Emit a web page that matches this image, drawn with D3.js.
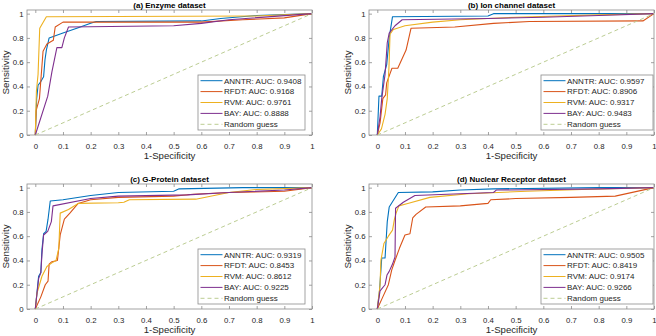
<!DOCTYPE html>
<html>
<head>
<meta charset="utf-8">
<script src="https://cdn.jsdelivr.net/npm/d3@7"></script>
<style>
    body { margin: 0; background: #fff; }
    text { font-family: "Liberation Sans", Arial, Helvetica, sans-serif; }
</style>
</head>
<body>
<div id="chart"></div>
<script>
// Method names (legend order) and their colours
const methods = ["ANNTR", "RFDT", "RVM", "BAY"];
const methodColors = ["#0072BD", "#D95319", "#EDB120", "#7E2F8E"];

const titles = ["(a) Enzyme dataset", "(b) Ion channel dataset", "(c) G-Protein dataset", "(d) Nuclear Receptor dataset"];
const aucEnzyme = ["0.9408", "0.9168", "0.9761", "0.8888"];
const aucIon = ["0.9597", "0.8906", "0.9317", "0.9483"];
const aucGpcr = ["0.9319", "0.8453", "0.8612", "0.9225"];
const aucNuclear = ["0.9505", "0.8419", "0.9174", "0.9266"];

const xTicks = [0, 0.1, 0.2, 0.3, 0.4, 0.5, 0.6, 0.7, 0.8, 0.9, 1];
const yTicks = [0, 0.2, 0.4, 0.6, 0.8, 1];

// ROC points [1-specificity, sensitivity]
const enzymeANNTR = [[0,0],[0.005,0.3],[0.01,0.41],[0.02,0.44],[0.03,0.48],[0.035,0.62],[0.04,0.7],[0.05,0.8],[0.1,0.84],[0.15,0.88],[0.2,0.92],[0.22,0.935],[0.6,0.94],[0.67,0.96],[0.8,0.985],[1,1]];
const enzymeRFDT = [[0,0],[0.003,0.2],[0.015,0.3],[0.028,0.69],[0.042,0.75],[0.065,0.78],[0.072,0.89],[0.1,0.93],[0.6,0.93],[0.75,0.95],[0.9,0.965],[1,1]];
const enzymeRVM = [[0,0],[0.004,0.36],[0.01,0.5],[0.016,0.88],[0.04,0.975],[0.8,0.98],[1,1]];
const enzymeBAY = [[0,0],[0.045,0.32],[0.06,0.52],[0.078,0.72],[0.096,0.72],[0.105,0.8],[0.12,0.89],[0.5,0.9],[0.6,0.92],[0.7,0.95],[1,1]];

const ionANNTR = [[0,0],[0.006,0.32],[0.016,0.32],[0.022,0.48],[0.034,0.58],[0.043,0.8],[0.055,0.975],[0.4,0.98],[0.42,1],[1,1]];
const ionRFDT = [[0,0],[0.01,0.1],[0.02,0.3],[0.03,0.33],[0.034,0.43],[0.045,0.5],[0.053,0.55],[0.074,0.55],[0.09,0.63],[0.104,0.7],[0.122,0.88],[0.28,0.89],[0.42,0.92],[0.55,0.935],[0.96,0.94],[1,1]];
const ionRVM = [[0,0],[0.015,0.05],[0.028,0.17],[0.036,0.3],[0.042,0.55],[0.046,0.83],[0.058,0.87],[0.1,0.9],[0.2,0.93],[0.3,0.95],[0.5,0.97],[0.8,0.99],[1,1]];
const ionBAY = [[0,0],[0.01,0.15],[0.016,0.3],[0.028,0.5],[0.036,0.76],[0.043,0.84],[0.064,0.9],[0.09,0.95],[0.4,0.96],[0.6,0.97],[0.8,0.985],[1,1]];

const gpcrANNTR = [[0,0],[0.012,0.27],[0.02,0.3],[0.024,0.49],[0.03,0.62],[0.039,0.64],[0.046,0.74],[0.054,0.89],[0.1,0.9],[0.2,0.935],[0.3,0.96],[0.5,0.97],[0.52,0.99],[0.75,1],[1,1]];
const gpcrRFDT = [[0,0],[0.02,0.1],[0.036,0.2],[0.046,0.23],[0.05,0.37],[0.06,0.39],[0.08,0.4],[0.09,0.61],[0.105,0.74],[0.125,0.79],[0.155,0.87],[0.2,0.9],[0.3,0.92],[0.5,0.93],[0.57,0.945],[0.7,0.96],[0.9,0.97],[1,1]];
const gpcrRVM = [[0,0],[0.006,0.13],[0.024,0.27],[0.042,0.35],[0.06,0.38],[0.075,0.4],[0.085,0.5],[0.09,0.79],[0.12,0.82],[0.155,0.87],[0.3,0.875],[0.32,0.88],[0.34,0.9],[0.58,0.905],[0.7,0.96],[0.8,0.985],[1,1]];
const gpcrBAY = [[0,0],[0.012,0.25],[0.02,0.3],[0.024,0.45],[0.03,0.61],[0.045,0.64],[0.058,0.72],[0.064,0.85],[0.2,0.91],[0.3,0.93],[0.55,0.94],[0.7,0.96],[0.9,0.98],[1,1]];

const nuclearANNTR = [[0,0],[0.008,0.15],[0.016,0.42],[0.028,0.42],[0.036,0.72],[0.043,0.84],[0.076,0.96],[0.2,0.965],[0.3,0.98],[0.42,0.99],[0.8,1],[1,1]];
const nuclearRFDT = [[0,0],[0.02,0.1],[0.04,0.2],[0.052,0.32],[0.064,0.4],[0.08,0.5],[0.1,0.61],[0.118,0.62],[0.128,0.75],[0.14,0.78],[0.175,0.84],[0.3,0.85],[0.4,0.87],[0.41,0.9],[0.5,0.91],[0.7,0.92],[0.86,0.93],[1,1]];
const nuclearRVM = [[0,0],[0.01,0.2],[0.013,0.4],[0.024,0.54],[0.04,0.6],[0.055,0.65],[0.062,0.74],[0.068,0.79],[0.078,0.85],[0.11,0.87],[0.19,0.92],[0.33,0.95],[0.54,0.97],[0.74,0.985],[1,1]];
const nuclearBAY = [[0,0],[0.01,0.15],[0.028,0.2],[0.035,0.28],[0.043,0.31],[0.055,0.37],[0.064,0.43],[0.066,0.83],[0.094,0.88],[0.136,0.935],[0.3,0.95],[0.42,0.96],[0.43,0.98],[0.8,0.99],[1,1]];

const randomGuess = [[0,0],[1,1]];

// Panel layout (pixel boxes of each axes)
const panels = [
    {title: titles[0], auc: aucEnzyme, curves: [enzymeANNTR, enzymeRFDT, enzymeRVM, enzymeBAY], box: {left: 27, right: 312, top: 10, bottom: 135}, legend: {right: 7, width: 107}},
    {title: titles[1], auc: aucIon, curves: [ionANNTR, ionRFDT, ionRVM, ionBAY], box: {left: 369, right: 654, top: 10, bottom: 135}, legend: {right: 1, width: 112}},
    {title: titles[2], auc: aucGpcr, curves: [gpcrANNTR, gpcrRFDT, gpcrRVM, gpcrBAY], box: {left: 27, right: 312, top: 184, bottom: 309}, legend: {right: 7, width: 107}},
    {title: titles[3], auc: aucNuclear, curves: [nuclearANNTR, nuclearRFDT, nuclearRVM, nuclearBAY], box: {left: 369, right: 654, top: 184, bottom: 309}, legend: {right: 1, width: 112}}
];

const axisColor = "#8c8c8c";
const textColor = "#262626";
const guessColor = "#bccd93";

const svg = d3.select("#chart")
    .append("svg")
    .attr("width", 656)
    .attr("height", 336);

panels.forEach(p => {
    const b = p.box;
    const x = d3.scaleLinear().domain([-0.03, 1]).range([b.left, b.right]);
    const y = d3.scaleLinear().domain([0, 1.03]).range([b.bottom, b.top]);

    const g = svg.append("g");

    // Axes background and box
    g.append("rect")
        .attr("x", b.left)
        .attr("y", b.top)
        .attr("width", b.right - b.left)
        .attr("height", b.bottom - b.top)
        .attr("fill", "#fff")
        .attr("stroke", axisColor)
        .attr("stroke-width", 0.8);

    // Bottom / left axes with labels, top / right with ticks only
    const bottom = g.append("g")
        .attr("transform", `translate(0,${b.bottom})`)
        .call(d3.axisBottom(x).tickValues(xTicks).tickFormat(d3.format("~g")).tickSizeInner(-3).tickSizeOuter(0).tickPadding(8));
    const left = g.append("g")
        .attr("transform", `translate(${b.left},0)`)
        .call(d3.axisLeft(y).tickValues(yTicks).tickFormat(d3.format("~g")).tickSizeInner(-3).tickSizeOuter(0).tickPadding(3.5));
    const top = g.append("g")
        .attr("transform", `translate(0,${b.top})`)
        .call(d3.axisTop(x).tickValues(xTicks).tickFormat("").tickSizeInner(-3).tickSizeOuter(0));
    const right = g.append("g")
        .attr("transform", `translate(${b.right},0)`)
        .call(d3.axisRight(y).tickValues(yTicks).tickFormat("").tickSizeInner(-3).tickSizeOuter(0));

    [bottom, left, top, right].forEach(a => {
        a.select(".domain").remove();
        a.selectAll(".tick line").attr("stroke", axisColor).attr("stroke-width", 0.8);
        a.selectAll(".tick text")
            .attr("fill", textColor)
            .style("font-size", "7.8px");
    });

    // ROC curves
    const line = d3.line()
        .x(d => x(d[0]))
        .y(d => y(d[1]));

    p.curves.forEach((c, i) => {
        g.append("path")
            .datum(c)
            .attr("fill", "none")
            .attr("stroke", methodColors[i])
            .attr("stroke-width", 1.1)
            .attr("stroke-linejoin", "round")
            .attr("d", line);
    });

    g.append("path")
        .datum(randomGuess)
        .attr("fill", "none")
        .attr("stroke", guessColor)
        .attr("stroke-width", 1)
        .attr("stroke-dasharray", "4,3")
        .attr("d", line);

    // Title
    g.append("text")
        .attr("x", (b.left + b.right) / 2)
        .attr("y", b.top - 2.5)
        .attr("text-anchor", "middle")
        .style("font-size", "8px")
        .style("font-weight", "bold")
        .attr("fill", "#000")
        .text(p.title);

    // Axis labels
    g.append("text")
        .attr("x", (b.left + b.right) / 2)
        .attr("y", b.bottom + 24)
        .attr("text-anchor", "middle")
        .style("font-size", "9.6px")
        .attr("fill", textColor)
        .text("1-Specificity");

    g.append("text")
        .attr("transform", `translate(${b.left - 18.5},${(b.top + b.bottom) / 2}) rotate(-90)`)
        .attr("text-anchor", "middle")
        .style("font-size", "9.8px")
        .attr("fill", textColor)
        .text("Sensitivity");

    // Legend
    const lw = p.legend.width;
    const lh = 55;
    const lx = b.right - p.legend.right - lw;
    const ly = b.bottom - 5 - lh;
    const legend = g.append("g").attr("transform", `translate(${lx},${ly})`);

    legend.append("rect")
        .attr("width", lw)
        .attr("height", lh)
        .attr("fill", "#fff")
        .attr("stroke", axisColor)
        .attr("stroke-width", 0.8);

    const entries = methods.map((m, i) => ({label: `${m}: AUC: ${p.auc[i]}`, color: methodColors[i], dash: null}));
    entries.push({label: "Random guess", color: guessColor, dash: "4,3"});

    entries.forEach((e, i) => {
        const ry = 5.7 + i * 10.9;
        legend.append("line")
            .attr("x1", 2.5)
            .attr("x2", 24.5)
            .attr("y1", ry)
            .attr("y2", ry)
            .attr("stroke", e.color)
            .attr("stroke-width", 1)
            .attr("stroke-dasharray", e.dash);
        legend.append("text")
            .attr("x", 26)
            .attr("y", ry)
            .attr("dy", "0.35em")
            .style("font-size", "8px")
            .attr("fill", textColor)
            .text(e.label);
    });
});
</script>
</body>
</html>
